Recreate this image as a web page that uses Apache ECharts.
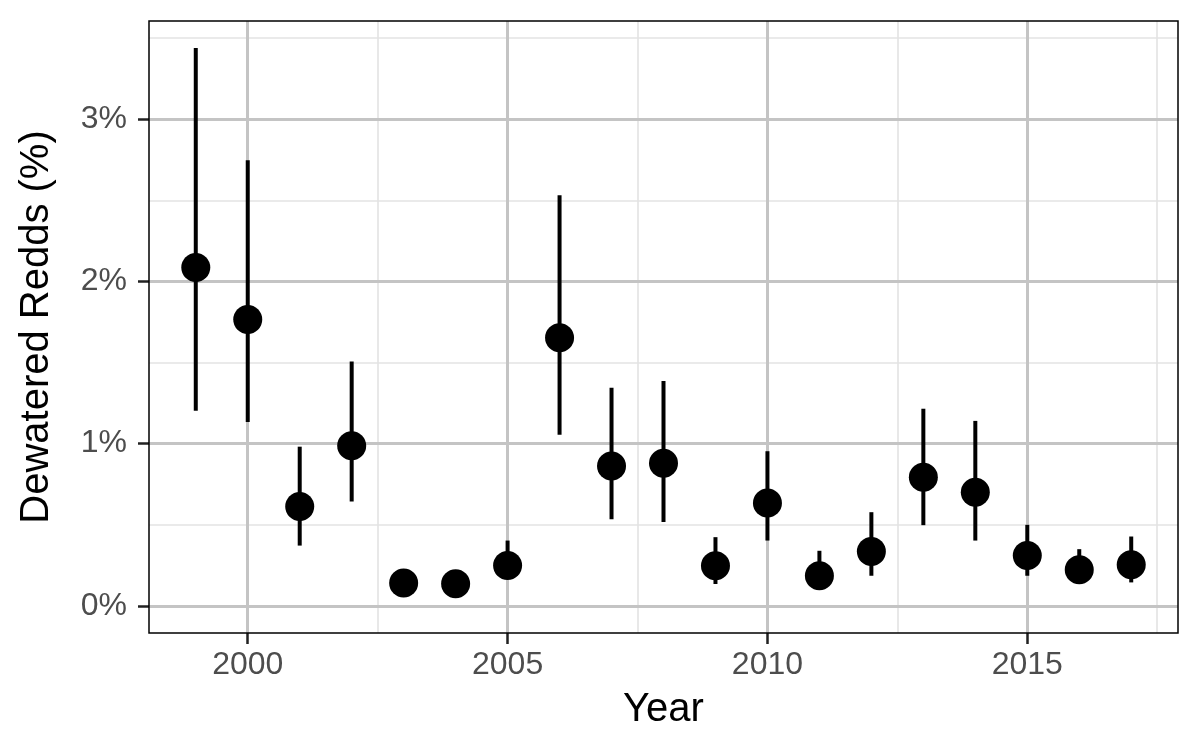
<!DOCTYPE html>
<html>
<head>
<meta charset="utf-8">
<script src="https://cdn.jsdelivr.net/npm/echarts@6/dist/echarts.min.js"></script>
<style>
  html, body { margin: 0; padding: 0; background: #fff; }
  #chart { width: 1199px; height: 749px; }
</style>
</head>
<body>
<div id="chart"></div>
<script>
// data (percent of redds dewatered, with interval)
var years = [1999, 2000, 2001, 2002, 2003, 2004, 2005, 2006, 2007, 2008,
             2009, 2010, 2011, 2012, 2013, 2014, 2015, 2016, 2017];
var estimate = [2.086, 1.765, 0.612, 0.987, 0.140, 0.136, 0.248, 1.653, 0.862, 0.879,
                0.246, 0.633, 0.185, 0.335, 0.793, 0.700, 0.310, 0.222, 0.253];
var lower = [1.203, 1.133, 0.371, 0.643, 0.090, 0.080, 0.170, 1.055, 0.534, 0.517,
             0.134, 0.402, 0.110, 0.185, 0.497, 0.402, 0.185, 0.150, 0.144];
var upper = [3.439, 2.747, 0.981, 1.507, 0.200, 0.190, 0.402, 2.532, 1.345, 1.386,
             0.423, 0.953, 0.339, 0.577, 1.215, 1.140, 0.499, 0.349, 0.427];

var xMajor = [2000, 2005, 2010, 2015];
var xMinor = [2002.5, 2007.5, 2012.5, 2017.5];
var yMajor = [0, 1, 2, 3];
var yMinor = [0.5, 1.5, 2.5, 3.5];

var font = 'Liberation Sans, Arial, Helvetica, sans-serif';
var xRange = [1998.1, 2017.9];
var yRange = [-0.168, 3.606];

var pointData = years.map(function (y, i) { return [y, estimate[i]]; });
var barData = years.map(function (y, i) { return [y, lower[i], upper[i]]; });

var chart = echarts.init(document.getElementById('chart'));

var option = {
  backgroundColor: '#ffffff',
  animation: false,
  grid: {
    left: 149,
    right: 21,
    top: 21,
    bottom: 116,
    outerBoundsMode: 'none',
    show: true,
    borderColor: '#000000',
    borderWidth: 1.5,
    backgroundColor: 'transparent',
    z: 5
  },
  xAxis: [{
    // minor grid
    type: 'value',
    position: 'bottom',
    min: xRange[0],
    max: xRange[1],
    z: 0,
    axisLine: {show: false, onZero: false},
    axisLabel: {show: false, customValues: xMinor},
    axisTick: {show: false, customValues: xMinor},
    splitLine: {show: true, lineStyle: {color: '#e3e3e3', width: 1.6}}
  }, {
    type: 'value',
    position: 'bottom',
    offset: 0,
    min: xRange[0],
    max: xRange[1],
    z: 1,
    name: 'Year',
    nameLocation: 'middle',
    nameGap: 57,
    nameTextStyle: {fontFamily: font, fontSize: 40, color: '#000000'},
    axisLine: {show: false, onZero: false},
    axisTick: {
      show: true,
      customValues: xMajor,
      length: 11,
      lineStyle: {color: '#222222', width: 2.5}
    },
    axisLabel: {
      customValues: xMajor,
      margin: 16,
      fontFamily: font,
      fontSize: 32,
      color: '#4d4d4d',
      formatter: function (v) { return String(v); }
    },
    splitLine: {show: true, lineStyle: {color: '#c4c4c4', width: 3}}
  }],
  yAxis: [{
    type: 'value',
    position: 'left',
    min: yRange[0],
    max: yRange[1],
    z: 0,
    axisLine: {show: false, onZero: false},
    axisLabel: {show: false, customValues: yMinor},
    axisTick: {show: false, customValues: yMinor},
    splitLine: {show: true, lineStyle: {color: '#e3e3e3', width: 1.6}}
  }, {
    type: 'value',
    position: 'left',
    offset: 0,
    min: yRange[0],
    max: yRange[1],
    z: 1,
    name: 'Dewatered Redds (%)',
    nameLocation: 'middle',
    nameGap: 92,
    nameTextStyle: {fontFamily: font, fontSize: 40, color: '#000000'},
    axisLine: {show: false, onZero: false},
    axisTick: {
      show: true,
      customValues: yMajor,
      length: 11,
      lineStyle: {color: '#222222', width: 2.5}
    },
    axisLabel: {
      customValues: yMajor,
      margin: 22,
      fontFamily: font,
      fontSize: 32,
      color: '#4d4d4d',
      formatter: '{value}%'
    },
    splitLine: {show: true, lineStyle: {color: '#c4c4c4', width: 3}}
  }],
  series: [{
    name: 'interval',
    type: 'custom',
    xAxisIndex: 1,
    yAxisIndex: 1,
    z: 3,
    data: barData,
    renderItem: function (params, api) {
      var lo = api.coord([api.value(0), api.value(1)]);
      var hi = api.coord([api.value(0), api.value(2)]);
      return {
        type: 'line',
        shape: {x1: lo[0], y1: lo[1], x2: hi[0], y2: hi[1]},
        style: {stroke: '#000000', lineWidth: 4}
      };
    }
  }, {
    name: 'estimate',
    type: 'scatter',
    xAxisIndex: 1,
    yAxisIndex: 1,
    z: 4,
    symbol: 'circle',
    symbolSize: 29,
    itemStyle: {color: '#000000', opacity: 1},
    data: pointData
  }]
};

chart.setOption(option);
</script>
</body>
</html>
